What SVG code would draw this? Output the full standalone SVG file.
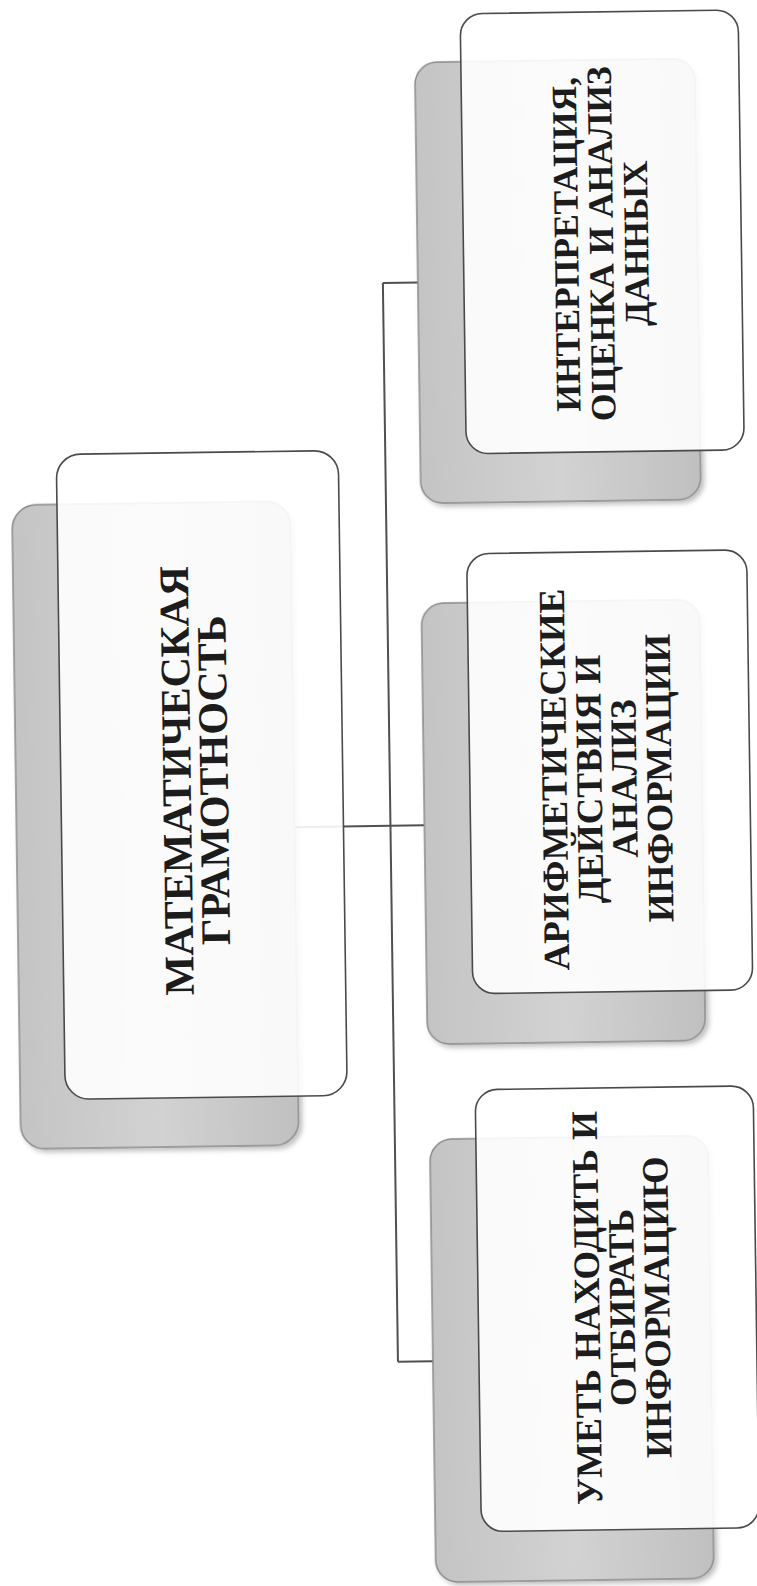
<svg xmlns="http://www.w3.org/2000/svg" width="757" height="1586" viewBox="0 0 757 1586">
<style>
.back{fill:url(#gr);stroke:#8a8a8a;stroke-width:1.5;filter:url(#sh)}
.front{fill:#ffffff;fill-opacity:0.9;stroke:#4a4a4a;stroke-width:1.6}
.t{font-family:"Liberation Serif","Times New Roman",serif;font-weight:bold;fill:#1c1c1c;text-anchor:middle}
.m{font-size:42px}
.s{font-size:37px}
.s1{font-size:35.5px}
.c{fill:none;stroke:#505050;stroke-width:2}
</style>
<defs>
<linearGradient id="gr" x1="0" y1="0" x2="1" y2="0">
<stop offset="0" stop-color="#c4c4c4"/>
<stop offset="0.5" stop-color="#d2d2d2"/>
<stop offset="1" stop-color="#c0c0c0"/>
</linearGradient>
<filter id="sh" x="-5%" y="-5%" width="112%" height="112%">
<feDropShadow dx="3" dy="3" stdDeviation="2.5" flood-color="#000" flood-opacity="0.25"/>
</filter>
</defs>
<rect width="757" height="1586" fill="#ffffff"/>
<g transform="rotate(-0.8 378 793)">
<g id="connectors">
<path class="c" d="M294 826 H390"/>
<path class="c" d="M390 283 V1362"/>
<path class="c" d="M390 283 H425"/>
<path class="c" d="M390 826 H424"/>
<path class="c" d="M390 1362 H425"/>
</g>
<g id="main">
<rect class="back" x="16" y="500" width="278" height="644" rx="24"/>
<rect class="front" x="61" y="450" width="282" height="645" rx="24"/>
<text class="t m" transform="translate(195.5 778) rotate(-90)"><tspan x="0" y="-4.6">МАТЕМАТИЧЕСКАЯ</tspan><tspan x="0" y="32.4">ГРАМОТНОСТЬ</tspan></text>
</g>
<g id="node1">
<rect class="back" x="425" y="63" width="280" height="441" rx="22"/>
<rect class="front" x="471" y="15" width="278" height="440" rx="22"/>
<text class="t s1" transform="translate(609 247) rotate(-90)"><tspan x="0" y="-23.25">ИНТЕРПРЕТАЦИЯ,</tspan><tspan x="0" y="11.75">ОЦЕНКА И АНАЛИЗ</tspan><tspan x="0" y="46.75">ДАННЫХ</tspan></text>
</g>
<g id="node2">
<rect class="back" x="424" y="604" width="278" height="441" rx="22"/>
<rect class="front" x="470" y="555" width="280" height="440" rx="22"/>
<text class="t s" transform="translate(607 782) rotate(-90)"><tspan x="0" y="-40.3">АРИФМЕТИЧЕСКИЕ</tspan><tspan x="0" y="-5.3">ДЕЙСТВИЯ И</tspan><tspan x="0" y="29.7">АНАЛИЗ</tspan><tspan x="0" y="64.7">ИНФОРМАЦИИ</tspan></text>
</g>
<g id="node3">
<rect class="back" x="425" y="1140" width="278" height="443" rx="22"/>
<rect class="front" x="471" y="1091" width="278" height="442" rx="22"/>
<text class="t s" transform="translate(615 1311) rotate(-90)"><tspan x="0" y="-22.8">УМЕТЬ НАХОДИТЬ И</tspan><tspan x="0" y="12.2">ОТБИРАТЬ</tspan><tspan x="0" y="47.2">ИНФОРМАЦИЮ</tspan></text>
</g>
</g>
</svg>
